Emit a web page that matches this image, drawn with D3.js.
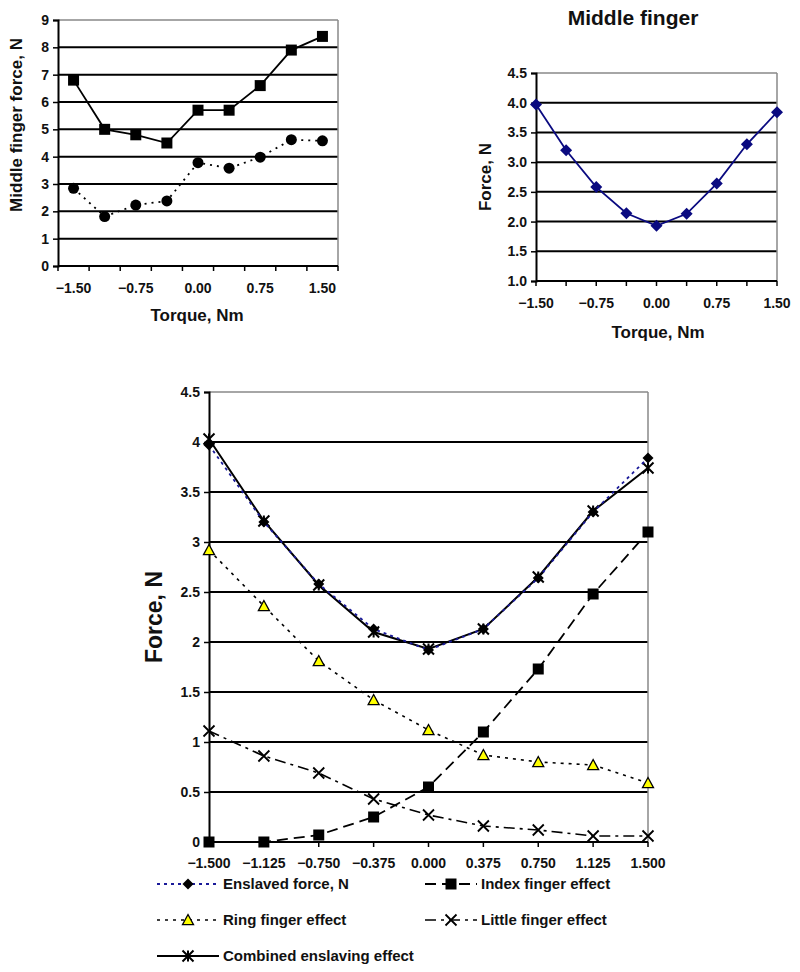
<!DOCTYPE html>
<html>
<head>
<meta charset="utf-8">
<script src="https://cdn.jsdelivr.net/npm/d3@7"></script>
<style>
  body { margin: 0; background: #fff; }
  svg { display: block; font-family: "Liberation Sans", Arial, sans-serif; font-weight: bold; }
  .tick-label { font-size: 14px; fill: #111; }
  .axis-label { font-size: 17px; fill: #111; }
</style>
</head>
<body>
<div id="chart"></div>
<script>
// Data
const torque = [-1.5, -1.125, -0.75, -0.375, 0, 0.375, 0.75, 1.125, 1.5];

// Top-left panel
const panelASquares = [6.8, 5.0, 4.8, 4.5, 5.7, 5.7, 6.6, 7.9, 8.4];
const panelACircles = [2.84, 1.81, 2.23, 2.38, 3.78, 3.58, 3.98, 4.62, 4.58];
const panelAYTicks = [0, 1, 2, 3, 4, 5, 6, 7, 8, 9];

// Top-right panel (Middle finger)
const middleForce = [3.97, 3.2, 2.58, 2.14, 1.93, 2.13, 2.64, 3.3, 3.84];
const panelBYTicks = [1.0, 1.5, 2.0, 2.5, 3.0, 3.5, 4.0, 4.5];

// Bottom panel
const enslavedForce = [3.97, 3.2, 2.58, 2.13, 1.92, 2.13, 2.64, 3.3, 3.84];
const indexEffect = [0, 0, 0.07, 0.25, 0.55, 1.1, 1.73, 2.48, 3.1];
const ringEffect = [2.92, 2.36, 1.81, 1.42, 1.12, 0.87, 0.8, 0.77, 0.59];
const littleEffect = [1.11, 0.86, 0.69, 0.43, 0.27, 0.16, 0.12, 0.06, 0.06];
const combinedEffect = [4.03, 3.21, 2.57, 2.1, 1.93, 2.13, 2.65, 3.31, 3.74];
const panelCYTicks = [0, 0.5, 1, 1.5, 2, 2.5, 3, 3.5, 4, 4.5];

const width = 800, height = 972;
const svg = d3.select("#chart").append("svg")
    .attr("width", width)
    .attr("height", height);

// Marker path builders
function markerPath(type, s) {
    const p = d3.path();
    const h = s / 2;
    if (type === "square") {
        p.rect(-h, -h, s, s);
    } else if (type === "diamond") {
        p.moveTo(0, -h); p.lineTo(h, 0); p.lineTo(0, h); p.lineTo(-h, 0); p.closePath();
    } else if (type === "triangle") {
        p.moveTo(0, -h); p.lineTo(h, h * 0.85); p.lineTo(-h, h * 0.85); p.closePath();
    } else if (type === "x") {
        p.moveTo(-h, -h); p.lineTo(h, h); p.moveTo(h, -h); p.lineTo(-h, h);
    } else if (type === "star") {
        p.moveTo(-h, -h); p.lineTo(h, h); p.moveTo(h, -h); p.lineTo(-h, h);
        p.moveTo(0, -h); p.lineTo(0, h);
    }
    return p.toString();
}

function drawMarkers(g, xs, ys, values, m) {
    g.selectAll(null)
        .data(values)
        .join("path")
        .attr("transform", (d, i) => `translate(${xs(torque[i])}, ${ys(d)})`)
        .attr("d", markerPath(m.type, m.size))
        .attr("fill", m.fill || "none")
        .attr("stroke", m.stroke || "none")
        .attr("stroke-width", m.strokeWidth || 0);
}

function drawSeries(g, xs, ys, values, style) {
    const line = d3.line()
        .x((d, i) => xs(torque[i]))
        .y(d => ys(d));
    g.append("path")
        .datum(values)
        .attr("d", line)
        .attr("fill", "none")
        .attr("stroke", style.color)
        .attr("stroke-width", style.width)
        .attr("stroke-dasharray", style.dash || null);
    if (style.marker) drawMarkers(g, xs, ys, values, style.marker);
}

// Horizontal gridlines + frame in Excel style
function drawFrame(g, xs0, xs1, ys, ticks, fmt) {
    const top = ticks[ticks.length - 1];
    const bottom = ticks[0];
    // inner gridlines (black)
    g.selectAll(null)
        .data(ticks.slice(1, -1))
        .join("line")
        .attr("x1", xs0).attr("x2", xs1)
        .attr("y1", d => ys(d)).attr("y2", d => ys(d))
        .attr("stroke", "#000").attr("stroke-width", 2);
    // top and right border (grey)
    g.append("line")
        .attr("x1", xs0).attr("x2", xs1)
        .attr("y1", ys(top)).attr("y2", ys(top))
        .attr("stroke", "#888").attr("stroke-width", 1.5);
    g.append("line")
        .attr("x1", xs1).attr("x2", xs1)
        .attr("y1", ys(top)).attr("y2", ys(bottom))
        .attr("stroke", "#888").attr("stroke-width", 1.5);
    // y axis
    const yAxis = g.append("g")
        .attr("transform", `translate(${xs0}, 0)`)
        .call(d3.axisLeft(ys).tickValues(ticks).tickFormat(fmt).tickSize(5).tickPadding(4));
    yAxis.attr("font-size", null).attr("font-family", null);
    yAxis.select(".domain").attr("stroke", "#000").attr("stroke-width", 2);
    yAxis.selectAll(".tick line").attr("stroke", "#000").attr("stroke-width", 1.5);
    yAxis.selectAll(".tick text")
        .attr("class", "tick-label")
        .style("font-size", "14px");
    // bottom axis line
    g.append("line")
        .attr("x1", xs0).attr("x2", xs1)
        .attr("y1", ys(bottom)).attr("y2", ys(bottom))
        .attr("stroke", "#000").attr("stroke-width", 2);
}

// ---------- Panel A: top-left ----------
const gA = svg.append("g");
const xA = d3.scaleBand().domain(torque).range([58, 338]).padding(0);
const xAc = v => xA(v) + xA.bandwidth() / 2;
const yA = d3.scaleLinear().domain([0, 9]).range([266, 20]);

drawFrame(gA, 58, 338, yA, panelAYTicks, d3.format("d"));

// x ticks at category boundaries
const boundariesA = torque.map(v => xA(v)).concat([338]);
gA.selectAll(null)
    .data(boundariesA)
    .join("line")
    .attr("x1", d => d).attr("x2", d => d)
    .attr("y1", yA(0)).attr("y2", yA(0) + 5)
    .attr("stroke", "#000").attr("stroke-width", 1.5);
gA.selectAll(null)
    .data(torque.filter((d, i) => i % 2 === 0))
    .join("text")
    .attr("class", "tick-label")
    .attr("x", d => xAc(d))
    .attr("y", 293)
    .attr("text-anchor", "middle")
    .text(d => d3.format(".2f")(d));

drawSeries(gA, xAc, yA, panelACircles, { color: "#000", width: 1.8, dash: "2,5" });
gA.selectAll(null)
    .data(panelACircles)
    .join("circle")
    .attr("cx", (d, i) => xAc(torque[i]))
    .attr("cy", d => yA(d))
    .attr("r", 5.5)
    .attr("fill", "#000");
drawSeries(gA, xAc, yA, panelASquares, {
    color: "#000", width: 1.8,
    marker: { type: "square", size: 11, fill: "#000" }
});

gA.append("text")
    .attr("class", "axis-label")
    .attr("transform", "rotate(-90)")
    .attr("x", -125)
    .attr("y", 22)
    .attr("text-anchor", "middle")
    .text("Middle finger force, N");
gA.append("text")
    .attr("class", "axis-label")
    .attr("x", 197)
    .attr("y", 321)
    .attr("text-anchor", "middle")
    .text("Torque, Nm");

// ---------- Panel B: top-right ----------
const gB = svg.append("g");
const xB = d3.scalePoint().domain(torque).range([536, 777]);
const yB = d3.scaleLinear().domain([1, 4.5]).range([281, 73]);

drawFrame(gB, 536, 777, yB, panelBYTicks, d3.format(".1f"));

gB.selectAll(null)
    .data(torque)
    .join("line")
    .attr("x1", d => xB(d)).attr("x2", d => xB(d))
    .attr("y1", yB(1)).attr("y2", yB(1) + 5)
    .attr("stroke", "#000").attr("stroke-width", 1.5);
gB.selectAll(null)
    .data(torque.filter((d, i) => i % 2 === 0))
    .join("text")
    .attr("class", "tick-label")
    .attr("x", d => xB(d))
    .attr("y", 308)
    .attr("text-anchor", "middle")
    .text(d => d3.format(".2f")(d));

drawSeries(gB, xB, yB, middleForce, {
    color: "#0a0a80", width: 1.8,
    marker: { type: "diamond", size: 12, fill: "#0a0a80" }
});

gB.append("text")
    .attr("x", 633)
    .attr("y", 25)
    .attr("text-anchor", "middle")
    .attr("font-size", 21)
    .attr("fill", "#111")
    .text("Middle finger");
gB.append("text")
    .attr("class", "axis-label")
    .attr("transform", "rotate(-90)")
    .attr("x", -177)
    .attr("y", 491)
    .attr("text-anchor", "middle")
    .text("Force, N");
gB.append("text")
    .attr("class", "axis-label")
    .attr("x", 658)
    .attr("y", 338)
    .attr("text-anchor", "middle")
    .text("Torque, Nm");

// ---------- Panel C: bottom ----------
const gC = svg.append("g");
const xC = d3.scalePoint().domain(torque).range([209, 648]);
const yC = d3.scaleLinear().domain([0, 4.5]).range([842, 392]);

drawFrame(gC, 209, 648, yC, panelCYTicks, d3.format("~g"));

gC.selectAll(null)
    .data(torque)
    .join("line")
    .attr("x1", d => xC(d)).attr("x2", d => xC(d))
    .attr("y1", yC(0)).attr("y2", yC(0) + 5)
    .attr("stroke", "#000").attr("stroke-width", 1.5);
gC.selectAll(null)
    .data(torque)
    .join("text")
    .attr("class", "tick-label")
    .attr("x", d => xC(d))
    .attr("y", 868)
    .attr("text-anchor", "middle")
    .text(d => d3.format(".3f")(d));

const seriesC = [
    { name: "Enslaved force, N", values: enslavedForce, color: "#1a1a99", width: 1.8, dash: "3,4",
      marker: { type: "diamond", size: 11, fill: "#000" } },
    { name: "Index finger effect", values: indexEffect, color: "#000", width: 1.8, dash: "11,6",
      marker: { type: "square", size: 11, fill: "#000" } },
    { name: "Ring finger effect", values: ringEffect, color: "#000", width: 1.6, dash: "3,5",
      marker: { type: "triangle", size: 11, fill: "#ffff00", stroke: "#000", strokeWidth: 1.3 } },
    { name: "Little finger effect", values: littleEffect, color: "#000", width: 1.6, dash: "11,5,3,5",
      marker: { type: "x", size: 11, stroke: "#000", strokeWidth: 1.8 } },
    { name: "Combined enslaving effect", values: combinedEffect, color: "#000", width: 2,
      marker: { type: "star", size: 11, stroke: "#000", strokeWidth: 2 } }
];

// solid combined line first so the dotted enslaved line shows where it diverges
[4, 0, 1, 2, 3].forEach(k => {
    const s = seriesC[k];
    drawSeries(gC, xC, yC, s.values, s);
});

gC.append("text")
    .attr("transform", "rotate(-90)")
    .attr("x", -617)
    .attr("y", 162)
    .attr("text-anchor", "middle")
    .attr("font-size", 23)
    .attr("fill", "#111")
    .text("Force, N");

// Legend
const legendPos = [
    { x: 157, y: 884 }, { x: 425, y: 884 },
    { x: 157, y: 920 }, { x: 425, y: 920 },
    { x: 157, y: 956 }
];
seriesC.forEach((s, i) => {
    const p = legendPos[i];
    const lg = gC.append("g").attr("transform", `translate(${p.x}, ${p.y})`);
    const len = i % 2 === 0 ? 62 : 52;
    lg.append("line")
        .attr("x1", 0).attr("x2", len)
        .attr("y1", 0).attr("y2", 0)
        .attr("stroke", s.color)
        .attr("stroke-width", s.width)
        .attr("stroke-dasharray", s.dash || null);
    lg.append("path")
        .attr("transform", `translate(${len / 2}, 0)`)
        .attr("d", markerPath(s.marker.type, s.marker.size))
        .attr("fill", s.marker.fill || "none")
        .attr("stroke", s.marker.stroke || "none")
        .attr("stroke-width", s.marker.strokeWidth || 0);
    lg.append("text")
        .attr("x", len + 4)
        .attr("y", 5)
        .attr("font-size", 15)
        .attr("fill", "#111")
        .text(s.name);
});
</script>
</body>
</html>
